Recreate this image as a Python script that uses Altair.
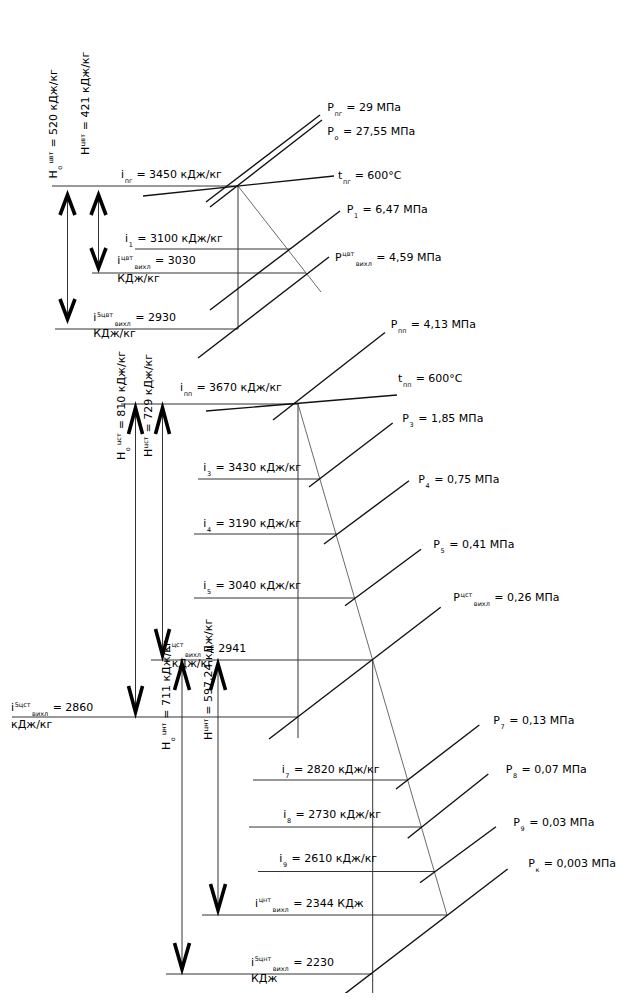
import altair as alt
import pandas as pd

# ---------------- geometry of the h-s diagram (picture coordinates) ----------------
# enthalpy levels (horizontal lines): x1, y, x2
enthalpy_lines = [
    (52, 186, 238), (135, 249, 290), (92, 273, 306), (55, 329, 238),
    (121, 404, 298), (198, 479, 320), (194, 534, 337), (194, 598, 355),
    (151, 660, 373), (12, 717, 298),
    (253, 780, 408), (249, 827, 422), (258, 871.5, 435), (202, 915, 447), (166, 974, 372),
]
# vertical (isentropic) lines: x, y1, y2
verticals = [(238, 186, 329), (298, 404, 738), (372.7, 660, 995)]
# real expansion process lines
process_lines = [(238, 186, 321, 292), (298, 404, 447, 915)]
# isobars
isobars = [
    (206, 202, 320, 115), (210, 207, 322, 120), (210, 310, 340, 211), (198, 358, 329, 257),
    (273, 420, 385, 332.5), (309, 487, 392.7, 423), (324, 544, 409, 480.7), (345, 605.7, 421, 549.3),
    (269, 739, 440.7, 607.3), (396, 789, 479.3, 725), (407.7, 838.3, 488.3, 774),
    (420, 882.7, 496, 826.7), (336.7, 1000, 507.7, 869),
]
# isotherms
isotherms = [(143, 196, 334, 176), (206, 411, 397, 395)]
# heat-drop arrows: x, top apex, bottom apex, half width, head length
arrows = [
    (67.5, 195, 319, 7.5, 20), (98.5, 195, 268, 7.5, 20),
    (135.5, 408, 712, 7, 26), (162.5, 408, 655, 7, 26),
    (182, 664, 969, 7.5, 26), (218, 664, 910, 7.5, 26),
]

# ---------------- labels ----------------
labels_h = [
    (327.3, 110.5, [("P", "m"), ("пг", "d"), (" = 29 МПа", "r")]),
    (327.3, 134.5, [("P", "m"), ("о", "d"), (" = 27,55 МПа", "r")]),
    (338, 179, [("t", "m"), ("пг", "d"), (" = 600°C", "r")]),
    (346.7, 213, [("P", "m"), ("1", "d"), (" = 6,47 МПа", "r")]),
    (335, 260.7, [("P", "m"), ("цвт", "u"), ("вихл", "d"), (" = 4,59 МПа", "r")]),
    (390.7, 328, [("P", "m"), ("пп", "d"), (" = 4,13 МПа", "r")]),
    (121, 178.3, [("i", "m"), ("пг", "d"), (" = 3450 кДж/кг", "r")]),
    (125, 241.7, [("i", "m"), ("1", "d"), (" = 3100 кДж/кг", "r")]),
    (117.3, 264, [("i", "m"), ("цвт", "u"), ("вихл", "d"), (" = 3030", "r")]),
    (117.3, 282, [("КДж/кг", "m")]),
    (93.3, 321.3, [("i", "m"), ("5цвт", "u"), ("вихл", "d"), (" = 2930", "r")]),
    (93.3, 337.3, [("КДж/кг", "m")]),
    (180, 390.7, [("i", "m"), ("пп", "d"), (" = 3670 кДж/кг", "r")]),
    (398, 381.7, [("t", "m"), ("пп", "d"), (" = 600°C", "r")]),
    (402.3, 422.3, [("P", "m"), ("3", "d"), (" = 1,85 МПа", "r")]),
    (203.3, 470.7, [("i", "m"), ("3", "d"), (" = 3430 кДж/кг", "r")]),
    (418.3, 483.3, [("P", "m"), ("4", "d"), (" = 0,75 МПа", "r")]),
    (203.3, 527.3, [("i", "m"), ("4", "d"), (" = 3190 кДж/кг", "r")]),
    (433.3, 547.7, [("P", "m"), ("5", "d"), (" = 0,41 МПа", "r")]),
    (203.3, 589, [("i", "m"), ("5", "d"), (" = 3040 кДж/кг", "r")]),
    (453.3, 601, [("P", "m"), ("цст", "u"), ("вихл", "d"), (" = 0,26 МПа", "r")]),
    (168, 651.5, [("i", "m"), ("цст", "u"), ("вихл", "d"), (" = 2941", "r")]),
    (171.7, 666.7, [("кДж/кг", "m")]),
    (11, 711, [("i", "m"), ("5цст", "u"), ("вихл", "d"), (" = 2860", "r")]),
    (11, 728.3, [("кДж/кг", "m")]),
    (493.3, 724, [("P", "m"), ("7", "d"), (" = 0,13 МПа", "r")]),
    (281.7, 773.3, [("i", "m"), ("7", "d"), (" = 2820 кДж/кг", "r")]),
    (505.7, 773.3, [("P", "m"), ("8", "d"), (" = 0,07 МПа", "r")]),
    (283.3, 818.3, [("i", "m"), ("8", "d"), (" = 2730 кДж/кг", "r")]),
    (513.3, 826, [("P", "m"), ("9", "d"), (" = 0,03 МПа", "r")]),
    (279.3, 861.7, [("i", "m"), ("9", "d"), (" = 2610 кДж/кг", "r")]),
    (528.3, 866.7, [("P", "m"), ("к", "d"), (" = 0,003 МПа", "r")]),
    (255, 906.7, [("i", "m"), ("цнт", "u"), ("вихл", "d"), (" = 2344 КДж", "r")]),
    (251, 965.7, [("i", "m"), ("5цнт", "u"), ("вихл", "d"), (" = 2230", "r")]),
    (251, 981.7, [("КДж", "m")]),
]
labels_v = [
    (57, 178.5, [("H", "m"), ("о", "d"), ("цвт", "u"), (" = 520 кДж/кг", "r")]),
    (89, 155, [("H", "m"), ("цвт", "u"), (" = 421 кДж/кг", "r")]),
    (125, 460, [("H", "m"), ("о", "d"), ("цст", "u"), (" = 810 кДж/кг", "r")]),
    (152, 457, [("H", "m"), ("цст", "u"), (" = 729 кДж/кг", "r")]),
    (170, 750, [("H", "m"), ("о", "d"), ("цнт", "u"), (" = 711 кДж/кг", "r")]),
    (212, 740, [("H", "m"), ("цнт", "u"), (" = 597,24 кДж/кг", "r")]),
]

# ---------------- build tables ----------------
CW = {'P': 0.603, 'i': 0.278, 't': 0.392, 'H': 0.752, ' ': 0.318, '=': 0.838, ',': 0.318,
      '°': 0.5, 'п': 0.634, 'г': 0.478, 'о': 0.612, 'ц': 0.658, 'в': 0.59, 'т': 0.512,
      'и': 0.649, 'х': 0.592, 'л': 0.64, 'с': 0.55, 'н': 0.649, 'к': 0.579}
SMALL = 6.5


def tw(s, fs):
    return sum(CW.get(c, 0.636 if c.isdigit() else 0.6) for c in s) * fs


def place(x, y, ang, parts):
    rows = []
    s = 0.0
    prev_small = False
    for text, role in parts:
        if role in "mr":
            if role == "r" and prev_small:
                s += 3.0
            fs, off = 11, 0.0
        else:
            fs = SMALL
            off = -4.5 if role == "u" else 5.0
            s += 0.6
        if ang == 0:
            px, py = x + s, y + off
        else:
            px, py = x + off, y - s
        rows.append(dict(x=px, y=py, t=text, fs=fs, ang=ang))
        s += tw(text, fs)
        prev_small = role in "ud"
        if prev_small:
            s += 1.5
    return rows


text_rows = []
for x, y, parts in labels_h:
    text_rows += place(x, y, 0, parts)
for x, y, parts in labels_v:
    text_rows += place(x, y, 270, parts)
text_df = pd.DataFrame(text_rows)

seg = lambda rows: pd.DataFrame(rows, columns=["x1", "y1", "x2", "y2"])
h_df = seg([(a, b, c, b) for a, b, c in enthalpy_lines])
v_df = seg([(a, b, a, c) for a, b, c in verticals])
p_df = seg(process_lines)
iso_df = seg(isobars)
t_df = seg(isotherms)
shaft_df = seg([(x, t, x, b) for x, t, b, hw, hl in arrows])

chev = []
for n, (x, t, b, hw, hl) in enumerate(arrows):
    for k, (px, py) in enumerate([(x - hw, t + hl), (x, t), (x + hw, t + hl)]):
        chev.append(dict(id=f"t{n}", k=k, x=px, y=py))
    for k, (px, py) in enumerate([(x - hw, b - hl), (x, b), (x + hw, b - hl)]):
        chev.append(dict(id=f"b{n}", k=k, x=px, y=py))
chev_df = pd.DataFrame(chev)

W, H = 625, 985
xs = alt.Scale(domain=[8, 8 + W], nice=False, zero=False)
ys = alt.Scale(domain=[8 + H, 8], nice=False, zero=False)


def rules(df, color, width):
    return alt.Chart(df).mark_rule(color=color, strokeWidth=width).encode(
        x=alt.X("x1:Q", scale=xs, axis=None),
        y=alt.Y("y1:Q", scale=ys, axis=None),
        x2="x2:Q",
        y2="y2:Q",
    )


chev_layer = alt.Chart(chev_df).mark_line(color="black", strokeWidth=3.6, strokeJoin="miter").encode(
    x=alt.X("x:Q", scale=xs, axis=None),
    y=alt.Y("y:Q", scale=ys, axis=None),
    detail="id:N",
    order="k:Q",
)

text_layer = alt.Chart(text_df).mark_text(
    align="left", baseline="alphabetic", font="DejaVu Sans", color="black"
).encode(
    x=alt.X("x:Q", scale=xs, axis=None),
    y=alt.Y("y:Q", scale=ys, axis=None),
    text="t:N",
    size=alt.Size("fs:Q", scale=None),
    angle=alt.Angle("ang:Q", scale=None),
)

chart = alt.layer(
    rules(h_df, "#333333", 1),
    rules(v_df, "#333333", 1),
    rules(p_df, "#444444", 0.8),
    rules(t_df, "#111111", 1.3),
    rules(iso_df, "#111111", 1.4),
    rules(shaft_df, "#333333", 1),
    chev_layer,
    text_layer,
).properties(
    width=W, height=H, padding=0, autosize=alt.AutoSizeParams(type="none")
).configure_view(stroke=None)

chart.save("out.html", embed_options={"renderer": "svg", "actions": False})
